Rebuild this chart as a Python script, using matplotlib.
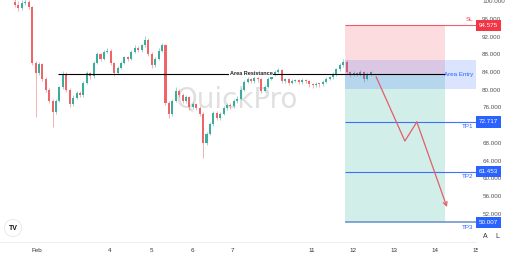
import numpy as np
import matplotlib
matplotlib.use("Agg")
import matplotlib.pyplot as plt
from matplotlib.patches import Rectangle

plt.rcParams['font.family'] = ['Liberation Sans', 'DejaVu Sans']

# price data (2h candles)
first_open = 99.9
closes = [99.2, 98.4, 99.6, 99.8, 98.6, 86.0, 83.8, 85.8, 82.5, 80.0,
          77.5, 75.0, 77.5, 80.5, 83.6, 80.0, 76.8, 78.2, 79.3, 78.8,
          81.5, 83.8, 83.0, 86.0, 88.0, 87.0, 88.6, 88.8, 86.0, 83.8,
          85.0, 86.0, 87.3, 87.0, 88.6, 89.5, 89.0, 90.0, 91.3, 88.0,
          85.6, 87.0, 88.8, 90.0, 77.0, 74.5, 77.5, 79.8, 78.8, 77.5,
          78.3, 76.0, 76.8, 75.8, 74.6, 68.0, 70.0, 72.3, 74.8, 73.6,
          74.6, 75.8, 76.6, 76.2, 77.5, 78.0, 80.0, 81.8, 82.4, 82.0,
          82.6, 82.3, 79.8, 80.6, 82.5, 83.3, 84.1, 84.4, 82.0, 82.3,
          81.6, 82.0, 82.1, 81.7, 82.2, 81.9, 81.2, 81.0, 81.3, 81.2,
          81.8, 82.5, 82.8, 83.6, 84.6, 85.6, 86.2, 84.0, 83.4, 83.8,
          83.6, 84.0, 82.5, 83.5, 83.9]
wick_up = [0.8, 0.9, 0.7, 0.8, 0.4, 0.3, 0.4, 0.5, 0.3, 0.4,
           0.3, 0.4, 0.5, 0.4, 0.6, 0.3, 0.4, 0.5, 0.4, 0.3,
           0.4, 0.5, 0.3, 0.4, 0.5, 0.3, 0.4, 0.5, 0.3, 0.3,
           0.4, 0.5, 0.4, 0.3, 0.4, 0.5, 0.3, 0.4, 0.9, 0.3,
           0.4, 0.4, 0.5, 0.6, 0.3, 0.4, 0.5, 0.8, 0.3, 0.4,
           0.5, 0.3, 0.4, 0.3, 0.4, 0.3, 0.4, 0.5, 0.4, 0.3,
           0.4, 0.5, 0.4, 0.3, 0.4, 0.5, 0.4, 0.4, 0.5, 0.3,
           0.4, 0.3, 0.3, 0.4, 0.4, 0.5, 0.4, 0.6, 0.3, 0.4,
           0.3, 0.4, 0.4, 0.3, 0.4, 0.3, 0.3, 0.3, 0.4, 0.3,
           0.4, 0.4, 0.4, 0.5, 0.4, 0.5, 0.7, 0.4, 0.3, 0.4,
           0.3, 0.4, 0.3, 0.4, 0.4]
wick_dn = [0.5, 0.6, 0.4, 0.5, 0.4, 0.5, 10.0, 0.4, 0.6, 0.5,
           0.6, 3.4, 0.4, 0.3, 0.4, 0.5, 0.8, 0.4, 0.3, 0.5,
           0.4, 0.3, 0.5, 0.4, 0.3, 0.5, 0.4, 0.3, 0.5, 0.6,
           0.3, 0.4, 0.3, 0.5, 0.4, 0.3, 0.5, 0.4, 0.3, 0.5,
           0.7, 0.4, 0.3, 0.4, 0.5, 0.9, 0.4, 0.3, 0.5, 0.6,
           0.4, 0.7, 0.4, 0.5, 0.6, 3.4, 0.4, 0.3, 0.4, 0.5,
           0.4, 0.3, 0.4, 0.5, 0.3, 0.4, 0.3, 0.4, 0.3, 0.5,
           0.4, 0.5, 0.6, 0.4, 0.3, 0.4, 0.3, 0.4, 0.5, 0.4,
           0.5, 0.4, 0.3, 0.5, 0.4, 0.5, 0.5, 0.6, 0.4, 0.5,
           0.4, 0.3, 0.4, 0.3, 0.4, 0.3, 0.4, 0.5, 0.5, 0.4,
           0.5, 0.4, 0.8, 0.4, 0.3]

day_labels = ['Feb', '4', '5', '6', '7', '11', '12', '13', '14', '15']
day_bars = [6.4, 27.8, 39.8, 51.8, 63.7, 86.8, 98.8, 110.8, 122.8, 134.8]
price_ticks = list(range(52, 101, 4))

resistance = 83.6
sl_price = 94.575
tp_prices = [72.717, 61.453, 50.007]
tp_names = ['TP1', 'TP2', 'TP3']
entry_zone = (80.2, 86.7)
pos_start, pos_end = 96.5, 125.7
res_start = 12.6
path_bars = [105.6, 114.0, 117.5, 126.3]
path_prices = [82.9, 68.4, 72.7, 53.5]

GREEN = '#3aae9c'
RED = '#ee6469'
BLUE = '#2962ff'
SLRED = '#f23645'

fig = plt.figure(figsize=(5.07, 2.57), dpi=100)
ax = fig.add_axes([0, 15 / 257, 476 / 507, 242 / 257])
ax.set_xlim(-4.39, 134.8)
ax.set_ylim(45.6, 100.25)

# candles
o = np.array([first_open] + closes[:-1])
c = np.array(closes)
x = np.arange(len(c))
cols = np.where(c >= o, GREEN, RED)
lo = np.minimum(o, c)
hi = np.maximum(o, c)
ax.vlines(x, lo - np.array(wick_dn), hi + np.array(wick_up), colors=cols, lw=0.5, alpha=0.7, zorder=2)
ax.bar(x, np.maximum(hi - lo, 0.2), bottom=lo, width=0.6, color=cols, lw=0, zorder=2)

# watermark
ax.text(0.498, 0.587, 'QuickPro', transform=ax.transAxes, ha='center', va='center',
        fontsize=20, color='#e0e0e0', family='DejaVu Sans', zorder=1)

# position tool
ax.add_patch(Rectangle((pos_start, resistance), pos_end - pos_start, sl_price - resistance,
                       fc='#f7525f', alpha=0.2, lw=0, zorder=3))
ax.add_patch(Rectangle((pos_start, tp_prices[-1]), pos_end - pos_start, resistance - tp_prices[-1],
                       fc='#22ab94', alpha=0.2, lw=0, zorder=3))
ax.add_patch(Rectangle((pos_start, entry_zone[0]), 134.8 - pos_start, entry_zone[1] - entry_zone[0],
                       fc=BLUE, alpha=0.17, lw=0, zorder=3))

ax.hlines(sl_price, pos_start, 134.8, color=SLRED, lw=0.8, alpha=0.8, zorder=4)
for p, w in zip(tp_prices, [0.8, 0.8, 1.3]):
    ax.hlines(p, pos_start, 134.8, color=BLUE if w < 1 else '#6f93c9', lw=w, alpha=0.9, zorder=4)

# resistance line
ax.hlines(resistance, res_start, pos_end, color='black', lw=0.8, zorder=5)
ax.text(69, resistance, 'Area Resistance', ha='center', va='center', fontsize=4,
        fontweight='bold', color='#222222', zorder=6,
        bbox=dict(boxstyle='square,pad=0.15', fc='white', ec='none'))

# projected path
ax.plot(path_bars[:-1], path_prices[:-1], color='#e35d6a', lw=0.9, zorder=6)
ax.annotate('', xy=(path_bars[-1], path_prices[-1]), xytext=(path_bars[-2], path_prices[-2]),
            arrowprops=dict(arrowstyle='->', color='#e35d6a', lw=0.9, shrinkA=0, shrinkB=0,
                            mutation_scale=7), zorder=6)

# in-chart labels
ytr = ax.get_yaxis_transform()
ax.annotate('SL', xy=(1.0, sl_price), xycoords=ytr, xytext=(-2, 2), textcoords='offset points',
            ha='right', va='bottom', fontsize=4.5, color=SLRED, zorder=7)
for p, name in zip(tp_prices, tp_names):
    ax.annotate(name, xy=(1.0, p), xycoords=ytr, xytext=(-2, -1.5), textcoords='offset points',
                ha='right', va='top', fontsize=4.5, color=BLUE, zorder=7)
ax.annotate('Area Entry', xy=(1.0, 83.4), xycoords=ytr, xytext=(-2, 0), textcoords='offset points',
            ha='right', va='center', fontsize=4.5, color=BLUE, zorder=7)

# price tags on the scale
tags = [(sl_price, SLRED)] + [(p, BLUE) for p in tp_prices]
for p, col in tags:
    ax.text(1.006, p, f'{p:.3f}', transform=ytr, ha='left', va='center', fontsize=4.5,
            color='white', clip_on=False, zorder=10,
            bbox=dict(boxstyle='square,pad=0.5', fc=col, ec='none'))

# axes styling
ax.yaxis.tick_right()
ax.set_yticks(price_ticks, [f'{v:.3f}' for v in price_ticks])
ax.tick_params(axis='y', length=0, pad=4.5, labelsize=4.5, labelcolor='#555555')
ax.set_xticks(day_bars, day_labels)
ax.tick_params(axis='x', length=0, pad=4, labelsize=4.5, labelcolor='#333333')
for s in ['top', 'left', 'right']:
    ax.spines[s].set_visible(False)
ax.spines['bottom'].set_color('#ebebeb')
ax.spines['bottom'].set_linewidth(0.6)

# price scale corner
fig.add_artist(Rectangle((478 / 507, 0), 29 / 507, 15 / 257, transform=fig.transFigure,
                         fc='white', ec='none', zorder=5))
fig.text(485 / 507, 1 - 237 / 257, 'A', ha='center', va='center', fontsize=5, color='#333333', zorder=6)
fig.text(497 / 507, 1 - 237 / 257, 'L', ha='center', va='center', fontsize=5, color='#333333', zorder=6)

# logo
fig.text(13 / 507, 1 - 228 / 257, 'TV', ha='center', va='center', fontsize=5, fontweight='bold',
         color='#111111', zorder=6,
         bbox=dict(boxstyle='circle,pad=0.6', fc='white', ec='#e6e6e6', lw=0.6))

fig.savefig('out.png', dpi=100)
